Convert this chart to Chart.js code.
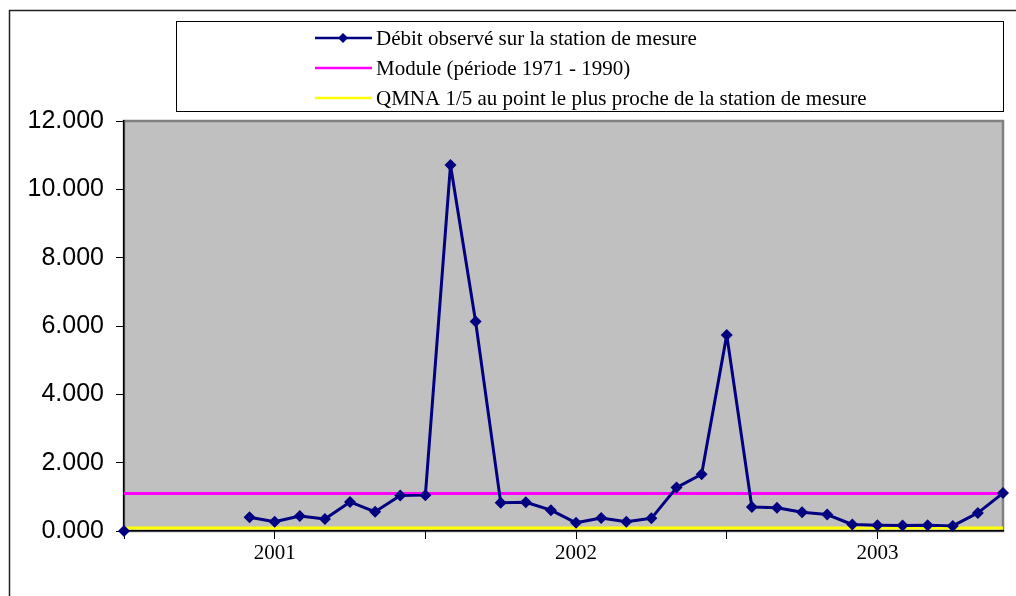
<!DOCTYPE html>
<html>
<head>
<meta charset="utf-8">
<script src="https://cdn.jsdelivr.net/npm/chart.js@4"></script>
<style>
  html, body { margin: 0; padding: 0; background: #fff; }
  #wrap { width: 1016px; height: 596px; }
</style>
</head>
<body>
<div id="wrap"><canvas id="chart" width="1016" height="596"></canvas></div>
<script>
// months from jul. 2000 to jun. 2003, labels only shown on january
const months = [
  '2000-07', '2000-08', '2000-09', '2000-10', '2000-11', '2000-12',
  '2001-01', '2001-02', '2001-03', '2001-04', '2001-05', '2001-06',
  '2001-07', '2001-08', '2001-09', '2001-10', '2001-11', '2001-12',
  '2002-01', '2002-02', '2002-03', '2002-04', '2002-05', '2002-06',
  '2002-07', '2002-08', '2002-09', '2002-10', '2002-11', '2002-12',
  '2003-01', '2003-02', '2003-03', '2003-04', '2003-05', '2003-06'
];

// débit observé (m3/s)
const debit = [
  0.00, null, null, null, null, 0.40,
  0.27, 0.44, 0.35, 0.85, 0.56, 1.04,
  1.05, 10.71, 6.13, 0.83, 0.84, 0.61,
  0.24, 0.38, 0.27, 0.37, 1.27, 1.66,
  5.74, 0.70, 0.68, 0.55, 0.48, 0.19,
  0.17, 0.16, 0.17, 0.15, 0.53, 1.11
];

const moduleValue = 1.10;
const qmnaValue = 0.09;
const moduleLine = months.map(() => moduleValue);
const qmnaLine = months.map(() => qmnaValue);

const yTicks = [0, 2, 4, 6, 8, 10, 12];

const seriesNames = [
  'Débit observé sur la station de mesure',
  'Module (période 1971 - 1990)',
  'QMNA 1/5 au point le plus proche de la station de mesure'
];

// background, frame and the boxed legend
const framePlugin = {
  id: 'frame',
  beforeDraw(chart) {
    const { ctx, chartArea: a } = chart;
    ctx.save();
    ctx.fillStyle = '#fff';
    ctx.fillRect(0, 0, chart.width, chart.height);
    // outer frame
    ctx.strokeStyle = '#222';
    ctx.lineWidth = 1.5;
    ctx.strokeRect(9.5, 10.5, 1100, 700);
    // plot area
    ctx.fillStyle = '#c0c0c0';
    ctx.fillRect(a.left, a.top, a.right - a.left, a.bottom - a.top);
    ctx.strokeStyle = '#808080';
    ctx.lineWidth = 2.5;
    ctx.strokeRect(a.left, a.top, a.right - a.left, a.bottom - a.top);
    ctx.restore();
  },
  afterDraw(chart) {
    const ctx = chart.ctx;
    ctx.save();
    ctx.fillStyle = '#fff';
    ctx.fillRect(176, 21, 827, 90);
    ctx.strokeStyle = '#000';
    ctx.lineWidth = 1;
    ctx.strokeRect(176.5, 21.5, 827, 90);
    ctx.font = '21px "Liberation Serif", "Times New Roman", serif';
    ctx.textBaseline = 'middle';
    chart.data.datasets.forEach((ds, i) => {
      const y = 38 + i * 30;
      ctx.strokeStyle = ds.borderColor;
      ctx.lineWidth = 2.5;
      ctx.beginPath();
      ctx.moveTo(315, y);
      ctx.lineTo(372, y);
      ctx.stroke();
      if (ds.pointRadius > 0) {
        ctx.fillStyle = ds.borderColor;
        ctx.beginPath();
        ctx.moveTo(343, y - 5);
        ctx.lineTo(348, y);
        ctx.lineTo(343, y + 5);
        ctx.lineTo(338, y);
        ctx.closePath();
        ctx.fill();
      }
      ctx.fillStyle = '#000';
      ctx.fillText(ds.label, 376, y + 1);
    });
    ctx.restore();
  }
};

new Chart(document.getElementById('chart'), {
  type: 'line',
  data: {
    labels: months,
    datasets: [
      {
        label: seriesNames[0],
        data: debit,
        borderColor: '#000080',
        backgroundColor: '#000080',
        borderWidth: 3,
        borderJoinStyle: 'round',
        pointStyle: 'rectRot',
        pointRadius: 6,
        pointBorderWidth: 0,
        spanGaps: false,
        tension: 0,
        clip: false
      },
      {
        label: seriesNames[1],
        data: moduleLine,
        borderColor: '#ff00ff',
        borderWidth: 3,
        pointRadius: 0,
        tension: 0
      },
      {
        label: seriesNames[2],
        data: qmnaLine,
        borderColor: '#ffff00',
        borderWidth: 3,
        pointRadius: 0,
        tension: 0
      }
    ]
  },
  options: {
    responsive: false,
    animation: false,
    layout: { padding: { top: 121, right: 13, left: 0, bottom: 0 } },
    plugins: {
      legend: { display: false },
      tooltip: { enabled: false }
    },
    scales: {
      x: {
        offset: false,
        afterFit: (s) => { s.height = 65; },
        border: { color: '#000', width: 1.5 },
        grid: {
          drawOnChartArea: false,
          tickLength: 8,
          tickColor: (c) => (c.index % 6 === 0 ? '#000' : 'rgba(0,0,0,0)'),
          tickWidth: 1
        },
        ticks: {
          autoSkip: false,
          maxRotation: 0,
          padding: 2,
          color: '#000',
          font: { family: '"Liberation Serif", "Times New Roman", serif', size: 21 },
          callback: (v, i) => (i % 12 === 6 ? months[i].slice(0, 4) : '')
        }
      },
      y: {
        min: 0,
        max: 12,
        afterFit: (s) => { s.width = 124; },
        afterBuildTicks: (s) => { s.ticks = yTicks.map(v => ({ value: v })); },
        border: { color: '#000', width: 1.5 },
        grid: { drawOnChartArea: false, tickLength: 8, tickColor: '#000' },
        ticks: {
          padding: 12,
          color: '#000',
          font: { family: '"Liberation Sans", Arial, sans-serif', size: 25 },
          callback: (v) => Number(v).toFixed(3)
        }
      }
    }
  },
  plugins: [framePlugin]
});
</script>
</body>
</html>
